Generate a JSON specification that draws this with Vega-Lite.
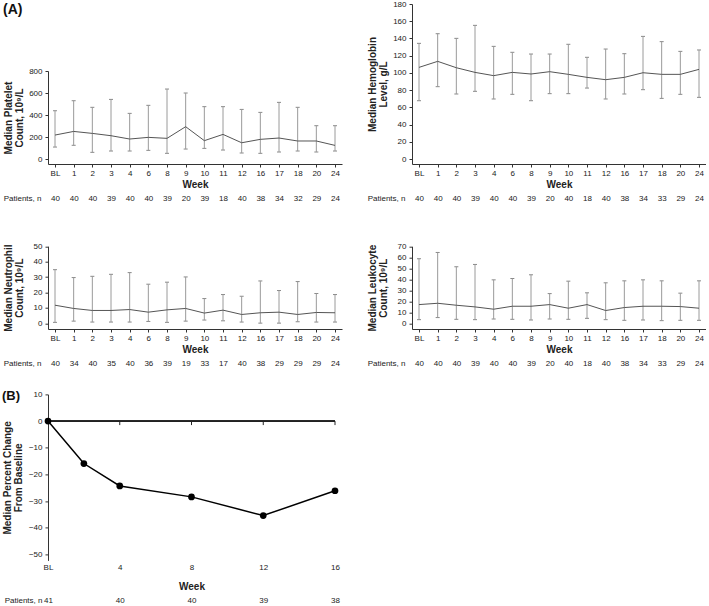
{
  "$schema": "https://vega.github.io/schema/vega-lite/v6.json",
  "padding": {"left": 2, "top": 0, "right": 0, "bottom": 0},
  "background": "white",
  "datasets": {
    "platelet": [
      {"wk": "BL", "med": 218, "lo": 109, "hi": 439, "n": 40},
      {"wk": "1", "med": 251, "lo": 125, "hi": 530, "n": 40},
      {"wk": "2", "med": 233, "lo": 61, "hi": 470, "n": 40},
      {"wk": "3", "med": 212, "lo": 73, "hi": 542, "n": 39},
      {"wk": "4", "med": 182, "lo": 73, "hi": 415, "n": 40},
      {"wk": "6", "med": 197, "lo": 79, "hi": 488, "n": 40},
      {"wk": "8", "med": 188, "lo": 52, "hi": 636, "n": 39},
      {"wk": "9", "med": 294, "lo": 91, "hi": 600, "n": 20},
      {"wk": "10", "med": 167, "lo": 97, "hi": 476, "n": 39},
      {"wk": "11", "med": 224, "lo": 82, "hi": 476, "n": 18},
      {"wk": "12", "med": 148, "lo": 55, "hi": 451, "n": 40},
      {"wk": "16", "med": 179, "lo": 52, "hi": 424, "n": 38},
      {"wk": "17", "med": 191, "lo": 64, "hi": 515, "n": 34},
      {"wk": "18", "med": 164, "lo": 73, "hi": 470, "n": 32},
      {"wk": "20", "med": 164, "lo": 64, "hi": 303, "n": 29},
      {"wk": "24", "med": 124, "lo": 73, "hi": 303, "n": 24}
    ],
    "hgb": [
      {"wk": "BL", "med": 106.4, "lo": 67.7, "hi": 134.3, "n": 40},
      {"wk": "1", "med": 113.4, "lo": 84.0, "hi": 145.5, "n": 40},
      {"wk": "2", "med": 106.0, "lo": 75.5, "hi": 140.1, "n": 40},
      {"wk": "3", "med": 100.6, "lo": 78.6, "hi": 155.2, "n": 39},
      {"wk": "4", "med": 96.8, "lo": 69.7, "hi": 130.8, "n": 40},
      {"wk": "6", "med": 100.6, "lo": 75.1, "hi": 123.9, "n": 40},
      {"wk": "8", "med": 98.7, "lo": 67.7, "hi": 121.9, "n": 39},
      {"wk": "9", "med": 101.4, "lo": 75.9, "hi": 121.9, "n": 20},
      {"wk": "10", "med": 98.3, "lo": 75.9, "hi": 133.2, "n": 40},
      {"wk": "11", "med": 94.8, "lo": 82.4, "hi": 118.1, "n": 18},
      {"wk": "12", "med": 92.1, "lo": 69.7, "hi": 127.7, "n": 40},
      {"wk": "16", "med": 94.8, "lo": 75.5, "hi": 122.3, "n": 38},
      {"wk": "17", "med": 100.2, "lo": 80.5, "hi": 142.4, "n": 34},
      {"wk": "18", "med": 98.3, "lo": 70.4, "hi": 136.3, "n": 33},
      {"wk": "20", "med": 98.3, "lo": 75.1, "hi": 125.0, "n": 29},
      {"wk": "24", "med": 104.1, "lo": 71.6, "hi": 126.6, "n": 24}
    ],
    "neut": [
      {"wk": "BL", "med": 11.8, "lo": 0.7, "hi": 34.8, "n": 40},
      {"wk": "1", "med": 9.7, "lo": 1.5, "hi": 29.7, "n": 34},
      {"wk": "2", "med": 8.4, "lo": 0.9, "hi": 30.5, "n": 40},
      {"wk": "3", "med": 8.4, "lo": 0.9, "hi": 31.8, "n": 35},
      {"wk": "4", "med": 9.0, "lo": 0.9, "hi": 32.9, "n": 40},
      {"wk": "6", "med": 7.3, "lo": 1.3, "hi": 25.4, "n": 36},
      {"wk": "8", "med": 8.8, "lo": 0.7, "hi": 26.7, "n": 39},
      {"wk": "9", "med": 9.7, "lo": 1.5, "hi": 30.1, "n": 19},
      {"wk": "10", "med": 6.7, "lo": 2.2, "hi": 16.1, "n": 33},
      {"wk": "11", "med": 8.6, "lo": 1.7, "hi": 18.7, "n": 17},
      {"wk": "12", "med": 5.8, "lo": 0.9, "hi": 17.6, "n": 40},
      {"wk": "16", "med": 6.9, "lo": 0.2, "hi": 27.5, "n": 38},
      {"wk": "17", "med": 7.3, "lo": 0.2, "hi": 21.3, "n": 29},
      {"wk": "18", "med": 5.8, "lo": 1.1, "hi": 27.1, "n": 29},
      {"wk": "20", "med": 7.1, "lo": 0.9, "hi": 19.4, "n": 29},
      {"wk": "24", "med": 6.9, "lo": 0.9, "hi": 18.7, "n": 24}
    ],
    "leuk": [
      {"wk": "BL", "med": 17.0, "lo": 3.3, "hi": 58.7, "n": 40},
      {"wk": "1", "med": 18.2, "lo": 5.2, "hi": 64.4, "n": 40},
      {"wk": "2", "med": 16.4, "lo": 3.6, "hi": 51.4, "n": 40},
      {"wk": "3", "med": 14.9, "lo": 3.3, "hi": 53.5, "n": 39},
      {"wk": "4", "med": 12.8, "lo": 3.9, "hi": 39.5, "n": 40},
      {"wk": "6", "med": 15.5, "lo": 3.6, "hi": 40.7, "n": 40},
      {"wk": "8", "med": 15.5, "lo": 3.0, "hi": 44.1, "n": 39},
      {"wk": "9", "med": 17.0, "lo": 3.9, "hi": 27.0, "n": 20},
      {"wk": "10", "med": 13.7, "lo": 3.6, "hi": 38.3, "n": 40},
      {"wk": "11", "med": 17.0, "lo": 4.5, "hi": 27.7, "n": 18},
      {"wk": "12", "med": 11.6, "lo": 3.3, "hi": 36.8, "n": 40},
      {"wk": "16", "med": 14.3, "lo": 2.7, "hi": 38.6, "n": 38},
      {"wk": "17", "med": 15.5, "lo": 3.0, "hi": 39.5, "n": 34},
      {"wk": "18", "med": 15.5, "lo": 2.4, "hi": 38.6, "n": 33},
      {"wk": "20", "med": 15.2, "lo": 2.7, "hi": 27.4, "n": 29},
      {"wk": "24", "med": 13.7, "lo": 2.7, "hi": 38.6, "n": 24}
    ],
    "pct": [
      {"week": 0, "pct": 0, "n": 41},
      {"week": 2, "pct": -15.9, "n": null},
      {"week": 4, "pct": -24.3, "n": 40},
      {"week": 8, "pct": -28.4, "n": 40},
      {"week": 12, "pct": -35.4, "n": 39},
      {"week": 16, "pct": -26.1, "n": 38}
    ]
  },
  "columns": 2,
  "spacing": {"row": 64.7, "column": 70},
  "bounds": "flush",
  "align": "each",
  "concat": [
    {
      "width": 294, "height": 160,
      "title": {"text": "(A)", "anchor": "start", "frame": "bounds", "fontSize": 14, "fontWeight": "bold", "color": "#111", "dy": 17},
      "data": {"name": "platelet"},
      "transform": [{"calculate": "datum.wk + '|' + datum.n", "as": "key"}],
      "layer": [
        {"layer": [
          {"mark": {"type": "errorbar", "ticks": {"size": 4, "thickness": 1, "color": "#555"}, "rule": {"color": "#9a9a9a"}},
           "encoding": {
             "x": {"field": "wk", "type": "ordinal", "sort": null, "scale": {"type": "point", "padding": 0.375},
                   "axis": {"title": "Week", "labelAngle": 0, "labelOverlap": false, "labelPadding": 2, "titlePadding": 2}},
             "y": {"field": "lo", "type": "quantitative", "scale": {"domain": [-45, 800], "range": [160, 67], "nice": false, "zero": false},
                   "axis": {"values": [0, 200, 400, 600, 800], "labelOverlap": false, "labelSeparation": 0, "labelBound": false, "title": ["Median Platelet", "Count, 10⁹/L"], "titleX": -35, "titleLineHeight": 11}},
             "y2": {"field": "hi"}}},
          {"mark": {"type": "line", "color": "#555", "strokeWidth": 1},
           "encoding": {"x": {"field": "wk", "type": "ordinal", "sort": null}, "y": {"field": "med", "type": "quantitative",
                   "axis": {"values": [0, 200, 400, 600, 800], "labelOverlap": false, "labelSeparation": 0, "labelBound": false, "title": ["Median Platelet", "Count, 10⁹/L"], "titleX": -35, "titleLineHeight": 11}}, "order": {"value": null}}}
        ]},
        {"mark": {"type": "point", "opacity": 0},
         "encoding": {"x": {"field": "key", "type": "ordinal", "sort": null, "scale": {"type": "point", "padding": 0.375},
           "axis": {"orient": "bottom", "offset": 34, "domain": false, "ticks": false, "tickSize": 0, "labelPadding": 0, "labelBaseline": "middle", "labelAngle": 0, "labelOverlap": false,
                    "labelExpr": "split(datum.label, '|')[1]", "title": "Patients, n", "titleX": -7, "titleY": 0, "titleAlign": "right", "titleBaseline": "middle", "titleAngle": 0, "titleFontWeight": "normal", "titleFontSize": 8}}}}
      ],
      "resolve": {"scale": {"x": "independent"}, "axis": {"x": "independent"}}
    },
    {
      "width": 294, "height": 160,
      "data": {"name": "hgb"},
      "transform": [{"calculate": "datum.wk + '|' + datum.n", "as": "key"}],
      "layer": [
        {"layer": [
          {"mark": {"type": "errorbar", "ticks": {"size": 4, "thickness": 1, "color": "#555"}, "rule": {"color": "#9a9a9a"}},
           "encoding": {
             "x": {"field": "wk", "type": "ordinal", "sort": null, "scale": {"type": "point", "padding": 0.375},
                   "axis": {"title": "Week", "labelAngle": 0, "labelOverlap": false, "labelPadding": 2, "titlePadding": 2}},
             "y": {"field": "lo", "type": "quantitative", "scale": {"domain": [-5.8, 180], "nice": false, "zero": false},
                   "axis": {"values": [0, 20, 40, 60, 80, 100, 120, 140, 160, 180], "labelOverlap": false, "labelSeparation": 0, "labelBound": false, "title": ["Median Hemoglobin", "Level, g/L"], "titleX": -35, "titleLineHeight": 11}},
             "y2": {"field": "hi"}}},
          {"mark": {"type": "line", "color": "#555", "strokeWidth": 1},
           "encoding": {"x": {"field": "wk", "type": "ordinal", "sort": null}, "y": {"field": "med", "type": "quantitative",
                   "axis": {"values": [0, 20, 40, 60, 80, 100, 120, 140, 160, 180], "labelOverlap": false, "labelSeparation": 0, "labelBound": false, "title": ["Median Hemoglobin", "Level, g/L"], "titleX": -35, "titleLineHeight": 11}}, "order": {"value": null}}}
        ]},
        {"mark": {"type": "point", "opacity": 0},
         "encoding": {"x": {"field": "key", "type": "ordinal", "sort": null, "scale": {"type": "point", "padding": 0.375},
           "axis": {"orient": "bottom", "offset": 34, "domain": false, "ticks": false, "tickSize": 0, "labelPadding": 0, "labelBaseline": "middle", "labelAngle": 0, "labelOverlap": false,
                    "labelExpr": "split(datum.label, '|')[1]", "title": "Patients, n", "titleX": -7, "titleY": 0, "titleAlign": "right", "titleBaseline": "middle", "titleAngle": 0, "titleFontWeight": "normal", "titleFontSize": 8}}}}
      ],
      "resolve": {"scale": {"x": "independent"}, "axis": {"x": "independent"}}
    },
    {
      "width": 294, "height": 100.3,
      "data": {"name": "neut"},
      "transform": [{"calculate": "datum.wk + '|' + datum.n", "as": "key"}],
      "layer": [
        {"layer": [
          {"mark": {"type": "errorbar", "ticks": {"size": 4, "thickness": 1, "color": "#555"}, "rule": {"color": "#9a9a9a"}},
           "encoding": {
             "x": {"field": "wk", "type": "ordinal", "sort": null, "scale": {"type": "point", "padding": 0.375},
                   "axis": {"title": "Week", "labelAngle": 0, "labelOverlap": false, "labelPadding": 2, "titlePadding": 2}},
             "y": {"field": "lo", "type": "quantitative", "scale": {"domain": [-3.6, 50], "range": [100.3, 17.5], "nice": false, "zero": false},
                   "axis": {"values": [0, 10, 20, 30, 40, 50], "labelOverlap": false, "labelSeparation": 0, "labelBound": false, "title": ["Median Neutrophil", "Count, 10⁹/L"], "titleX": -35, "titleLineHeight": 11}},
             "y2": {"field": "hi"}}},
          {"mark": {"type": "line", "color": "#555", "strokeWidth": 1},
           "encoding": {"x": {"field": "wk", "type": "ordinal", "sort": null}, "y": {"field": "med", "type": "quantitative",
                   "axis": {"values": [0, 10, 20, 30, 40, 50], "labelOverlap": false, "labelSeparation": 0, "labelBound": false, "title": ["Median Neutrophil", "Count, 10⁹/L"], "titleX": -35, "titleLineHeight": 11}}, "order": {"value": null}}}
        ]},
        {"mark": {"type": "point", "opacity": 0},
         "encoding": {"x": {"field": "key", "type": "ordinal", "sort": null, "scale": {"type": "point", "padding": 0.375},
           "axis": {"orient": "bottom", "offset": 34, "domain": false, "ticks": false, "tickSize": 0, "labelPadding": 0, "labelBaseline": "middle", "labelAngle": 0, "labelOverlap": false,
                    "labelExpr": "split(datum.label, '|')[1]", "title": "Patients, n", "titleX": -7, "titleY": 0, "titleAlign": "right", "titleBaseline": "middle", "titleAngle": 0, "titleFontWeight": "normal", "titleFontSize": 8}}}}
      ],
      "resolve": {"scale": {"x": "independent"}, "axis": {"x": "independent"}}
    },
    {
      "width": 294, "height": 100.3,
      "data": {"name": "leuk"},
      "transform": [{"calculate": "datum.wk + '|' + datum.n", "as": "key"}],
      "layer": [
        {"layer": [
          {"mark": {"type": "errorbar", "ticks": {"size": 4, "thickness": 1, "color": "#555"}, "rule": {"color": "#9a9a9a"}},
           "encoding": {
             "x": {"field": "wk", "type": "ordinal", "sort": null, "scale": {"type": "point", "padding": 0.375},
                   "axis": {"title": "Week", "labelAngle": 0, "labelOverlap": false, "labelPadding": 2, "titlePadding": 2}},
             "y": {"field": "lo", "type": "quantitative", "scale": {"domain": [-5.2, 70], "range": [100.3, 17.6], "nice": false, "zero": false},
                   "axis": {"values": [0, 10, 20, 30, 40, 50, 60, 70], "labelOverlap": false, "labelSeparation": 0, "labelBound": false, "title": ["Median Leukocyte", "Count, 10⁹/L"], "titleX": -35, "titleLineHeight": 11}},
             "y2": {"field": "hi"}}},
          {"mark": {"type": "line", "color": "#555", "strokeWidth": 1},
           "encoding": {"x": {"field": "wk", "type": "ordinal", "sort": null}, "y": {"field": "med", "type": "quantitative",
                   "axis": {"values": [0, 10, 20, 30, 40, 50, 60, 70], "labelOverlap": false, "labelSeparation": 0, "labelBound": false, "title": ["Median Leukocyte", "Count, 10⁹/L"], "titleX": -35, "titleLineHeight": 11}}, "order": {"value": null}}}
        ]},
        {"mark": {"type": "point", "opacity": 0},
         "encoding": {"x": {"field": "key", "type": "ordinal", "sort": null, "scale": {"type": "point", "padding": 0.375},
           "axis": {"orient": "bottom", "offset": 34, "domain": false, "ticks": false, "tickSize": 0, "labelPadding": 0, "labelBaseline": "middle", "labelAngle": 0, "labelOverlap": false,
                    "labelExpr": "split(datum.label, '|')[1]", "title": "Patients, n", "titleX": -7, "titleY": 0, "titleAlign": "right", "titleBaseline": "middle", "titleAngle": 0, "titleFontWeight": "normal", "titleFontSize": 8}}}}
      ],
      "resolve": {"scale": {"x": "independent"}, "axis": {"x": "independent"}}
    },
    {
      "width": 287, "height": 166,
      "title": {"text": "(B)", "anchor": "start", "frame": "bounds", "fontSize": 13, "fontWeight": "bold", "color": "#111", "dy": 17},
      "data": {"name": "pct"},
      "layer": [
        {"layer": [
          {"mark": {"type": "rule", "color": "#222", "strokeWidth": 1},
           "encoding": {"y": {"datum": 0, "type": "quantitative",
                   "axis": {"values": [-50, -40, -30, -20, -10, 0, 10], "labelOverlap": false, "labelSeparation": 0, "labelBound": false, "title": ["Median Percent Change", "From Baseline"], "titleX": -36, "titleLineHeight": 11}}}},
          {"transform": [{"filter": "datum.week > 0 && datum.week % 4 === 0"}],
           "mark": {"type": "rule", "color": "#222", "strokeWidth": 1},
           "encoding": {"x": {"field": "week", "type": "quantitative"}, "y": {"datum": 0, "type": "quantitative",
                   "axis": {"values": [-50, -40, -30, -20, -10, 0, 10], "labelOverlap": false, "labelSeparation": 0, "labelBound": false, "title": ["Median Percent Change", "From Baseline"], "titleX": -36, "titleLineHeight": 11}}, "y2": {"datum": -1.5}}},
          {"mark": {"type": "line", "color": "#000", "strokeWidth": 1.5, "point": {"filled": true, "size": 45, "color": "#000", "opacity": 1}},
           "encoding": {
             "x": {"field": "week", "type": "quantitative", "scale": {"domain": [0, 16], "nice": false, "zero": false},
                   "axis": {"values": [0, 4, 8, 12, 16], "labelExpr": "datum.value === 0 ? 'BL' : datum.label", "labelFlush": false, "labelOverlap": false, "domain": false, "ticks": false, "tickSize": 0, "labelPadding": 3, "title": "Week", "titlePadding": 10}},
             "y": {"field": "pct", "type": "quantitative", "scale": {"domain": [-52.2, 10], "nice": false, "zero": false},
                   "axis": {"values": [-50, -40, -30, -20, -10, 0, 10], "labelOverlap": false, "labelSeparation": 0, "labelBound": false, "title": ["Median Percent Change", "From Baseline"], "titleX": -36, "titleLineHeight": 11}}}}
        ]},
        {"transform": [{"filter": "datum.n != null"}, {"calculate": "datum.week + '|' + datum.n", "as": "key"}],
         "mark": {"type": "point", "opacity": 0},
         "encoding": {"x": {"field": "key", "type": "ordinal", "sort": null, "scale": {"type": "point", "padding": 0},
           "axis": {"orient": "bottom", "offset": 40, "domain": false, "ticks": false, "tickSize": 0, "labelPadding": 0, "labelBaseline": "middle", "labelAngle": 0, "labelOverlap": false,
                    "labelExpr": "split(datum.label, '|')[1]", "title": "Patients, n", "titleX": -6, "titleY": 0, "titleAlign": "right", "titleBaseline": "middle", "titleAngle": 0, "titleFontWeight": "normal", "titleFontSize": 8}}}}
      ],
      "resolve": {"scale": {"x": "independent"}, "axis": {"x": "independent"}}
    }
  ],
  "config": {
    "view": {"stroke": null},
    "font": "Liberation Sans",
    "axis": {
      "labelFont": "Liberation Sans", "labelFontSize": 8, "labelColor": "#222", "labelOverlap": false,
      "titleFont": "Liberation Sans", "titleFontSize": 10, "titleFontWeight": "bold", "titleColor": "#222",
      "domainColor": "#333", "tickColor": "#333", "tickSize": 3, "grid": false, "labelPadding": 3, "titlePadding": 2
    },
    "axisY": {"labelOverlap": false},
    "axisLeft": {"labelOverlap": false},
    "title": {"font": "Liberation Sans"}
  }
}
